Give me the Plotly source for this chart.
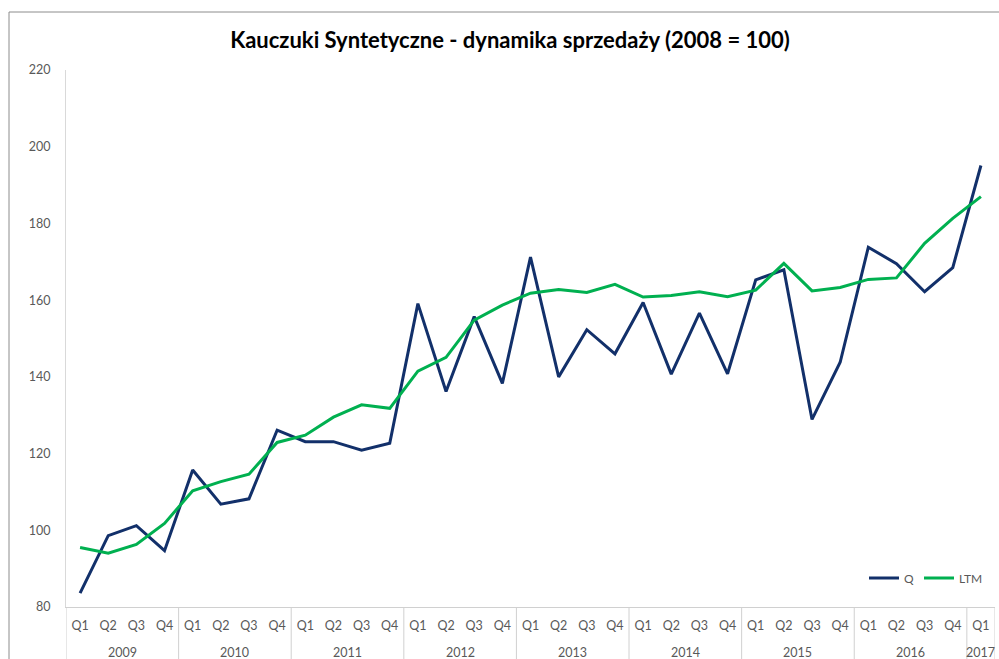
import plotly.graph_objects as go

years = ["2009"] * 4 + ["2010"] * 4 + ["2011"] * 4 + ["2012"] * 4 + ["2013"] * 4 + \
        ["2014"] * 4 + ["2015"] * 4 + ["2016"] * 4 + ["2017"]
quarters = ["Q1", "Q2", "Q3", "Q4"] * 8 + ["Q1"]

q_values = [83.6, 98.6, 101.2, 94.7,
            115.7, 106.8, 108.2, 126.1,
            123.1, 123.1, 120.9, 122.7,
            159.1, 136.2, 155.7, 138.3,
            171.2, 140.0, 152.3, 146.0,
            159.4, 140.7, 156.6, 140.8,
            165.3, 167.9, 128.9, 143.8,
            173.8, 169.5, 162.2, 168.5,
            195.1]
ltm_values = [95.5, 94.0, 96.3, 101.8,
              110.3, 112.7, 114.6, 122.9,
              124.8, 129.5, 132.7, 131.8,
              141.5, 145.1, 154.8, 158.7,
              161.8, 162.8, 162.0, 164.1,
              160.8, 161.2, 162.2, 160.9,
              162.6, 169.6, 162.4, 163.3,
              165.4, 165.8, 174.8, 181.3,
              187.0]

title_text = "Kauczuki Syntetyczne - dynamika sprzedaży (2008 = 100)"

idx = list(range(len(quarters)))

FONT = "Lato, 'Open Sans', sans-serif"
GRAY = "#595959"
LINE = "#D0D0D0"

fig = go.Figure()
fig.add_trace(go.Scatter(x=idx, y=q_values, name="Q", mode="lines",
                         line=dict(color="#12306A", width=3)))
fig.add_trace(go.Scatter(x=idx, y=ltm_values, name="LTM", mode="lines",
                         line=dict(color="#00B050", width=3)))

W, H = 999, 659
ml, mr, mt, mb = 66, 4, 70, 52
pw = W - ml - mr
ph = H - mt - mb

def px_x(p):
    return (p - ml) / pw

def px_y(p):
    return (H - mb - p) / ph

# year groups: labels and dividers derived from the category lists
groups = []
for i, y in enumerate(years):
    if not groups or groups[-1][0] != y:
        groups.append([y, i, i])
    else:
        groups[-1][2] = i

shapes = [dict(type="rect", xref="paper", yref="paper",
               x0=px_x(9), x1=px_x(1010), y0=px_y(670), y1=px_y(12),
               line=dict(color="#8C8C8C", width=1), fillcolor="rgba(0,0,0,0)", layer="below")]
annotations = []
bounds = [g[1] - 0.5 for g in groups] + [groups[-1][2] + 0.5]
for b in bounds:
    shapes.append(dict(type="line", xref="x", yref="paper", x0=b, x1=b,
                       y0=0, y1=px_y(665), line=dict(color=LINE, width=1)))
for name, s, e in groups:
    annotations.append(dict(x=(s + e) / 2, xref="x", y=px_y(652), yref="paper",
                            text=name, showarrow=False, yanchor="middle",
                            font=dict(size=12.5, color=GRAY, family=FONT)))

fig.update_layout(
    width=W, height=H,
    margin=dict(l=ml, r=mr, t=mt, b=mb),
    paper_bgcolor="white", plot_bgcolor="white",
    font=dict(family=FONT, size=12, color=GRAY),
    title=dict(text="<b>" + title_text + "</b>", x=px_x(510), xref="paper", xanchor="center",
               y=1 - 40 / H, yanchor="middle",
               font=dict(size=22, color="#000000", family=FONT)),
    showlegend=True,
    legend=dict(orientation="h", x=px_x(988), xanchor="right", y=px_y(578), yanchor="middle",
                bgcolor="rgba(0,0,0,0)", itemwidth=30,
                font=dict(size=12, color=GRAY)),
    xaxis=dict(range=[-0.5, len(idx) - 0.5], tickvals=idx, ticktext=quarters,
               showline=True, linecolor=LINE, linewidth=1,
               showgrid=False, zeroline=False, ticks="", ticklabelstandoff=7,
               tickfont=dict(size=12.5, color=GRAY)),
    yaxis=dict(range=[80, 220], dtick=20, showgrid=False, zeroline=False,
               showline=True, linecolor="#D9D9D9", linewidth=1, ticks="",
               ticklabelstandoff=12, tickfont=dict(size=12.5, color=GRAY)),
    shapes=shapes,
    annotations=annotations,
)

fig.write_html("out.html", config={"displayModeBar": False},
               post_script="document.body.style.margin='0';")
